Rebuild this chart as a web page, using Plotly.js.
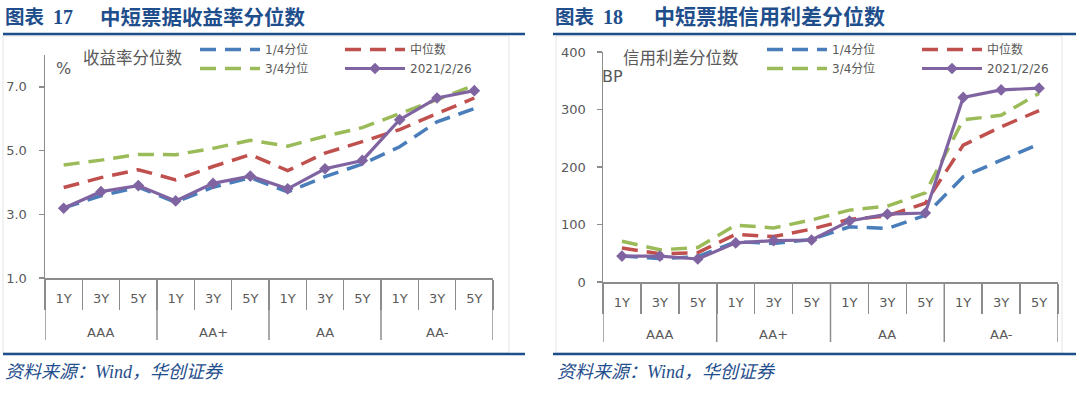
<!DOCTYPE html>
<html>
<head>
<meta charset="utf-8">
<script src="https://cdn.plot.ly/plotly-3.0.1.min.js"></script>
<style>html,body{margin:0;padding:0;background:#fff}#chart{width:1080px;height:395px}</style>
</head>
<body>
<div id="chart"></div>
<script>
// ---- data ----
const grades = ['AAA', 'AA+', 'AA', 'AA-'];
const tenors = ['1Y', '3Y', '5Y'];
const seriesNames = ['1/4分位', '中位数', '3/4分位', '2021/2/26'];

// 收益率分位数 (%)
const yieldQ1  = [3.20, 3.58, 3.85, 3.38, 3.85, 4.15, 3.70, 4.18, 4.58, 5.12, 5.90, 6.32];
const yieldMed = [3.84, 4.15, 4.40, 4.08, 4.50, 4.87, 4.37, 4.92, 5.28, 5.66, 6.16, 6.65];
const yieldQ3  = [4.55, 4.70, 4.88, 4.87, 5.07, 5.32, 5.14, 5.45, 5.72, 6.15, 6.60, 7.05];
const yieldNow = [3.19, 3.71, 3.90, 3.42, 3.97, 4.20, 3.80, 4.43, 4.69, 5.97, 6.65, 6.88];

// 信用利差分位数 (BP)
const spreadQ1  = [45, 41, 44, 70, 67, 74, 96, 93, 116, 183, 212, 240];
const spreadMed = [59, 49, 51, 83, 79, 92, 109, 115, 137, 238, 270, 298];
const spreadQ3  = [71, 56, 60, 99, 94, 108, 125, 132, 155, 282, 290, 328];
const spreadNow = [45, 45, 40, 68, 72, 73, 106, 118, 120, 321, 334, 337];

const yTicksLeft = [1, 3, 5, 7];
const yTicksRight = [0, 100, 200, 300, 400];

// ---- build ----
const xKeys = [], alias = {};
grades.forEach(g => tenors.forEach(t => { const k = g + ' ' + t; xKeys.push(k); alias[k] = t; }));

const W = 1080, H = 395;
const px = x => x / W;
const py = y => 1 - y / H;

const colors = ['#4A7EBB', '#C0504D', '#9BBB59', '#8064A2'];
const dashPat = '16px,9px';
const gray = '#595959';
const axGray = '#8C8C8C';
const cjk = 'DejaVu Sans, Noto Sans CJK SC, sans-serif';

function mk(y, i, xa, ya, lg) {
  const isNow = i === 3;
  return {
    type: 'scatter', x: xKeys, y: y, name: seriesNames[i], xaxis: xa, yaxis: ya,
    legend: lg,
    mode: isNow ? 'lines+markers' : 'lines',
    line: { color: colors[i], width: isNow ? 3.2 : 3.5, dash: isNow ? 'solid' : dashPat },
    marker: { symbol: 'diamond', size: 9, color: colors[i] },
    hoverinfo: 'skip'
  };
}

const data = [
  mk(yieldQ1, 0, 'x', 'y', 'legend'),
  mk(yieldMed, 1, 'x', 'y', 'legend2'),
  mk(yieldQ3, 2, 'x', 'y', 'legend'),
  mk(yieldNow, 3, 'x', 'y', 'legend2'),
  mk(spreadQ1, 0, 'x2', 'y2', 'legend3'),
  mk(spreadMed, 1, 'x2', 'y2', 'legend4'),
  mk(spreadQ3, 2, 'x2', 'y2', 'legend3'),
  mk(spreadNow, 3, 'x2', 'y2', 'legend4')
];

function xax(d0, d1, anchor, innerLen) {
  return {
    domain: [px(d0), px(d1)], anchor: anchor, type: 'category',
    categoryorder: 'array', categoryarray: xKeys, labelalias: alias,
    showline: true, linecolor: axGray, linewidth: 1.5,
    ticks: 'outside', tickson: 'boundaries', ticklen: innerLen, tickcolor: axGray, tickwidth: 1.5,
    ticklabelstandoff: 8,
    tickfont: { family: cjk, size: 13, color: gray },
    showgrid: false, zeroline: false, range: [-0.5, xKeys.length - 0.5], fixedrange: true
  };
}
function yax(top, bottom, anchor, range, tickvals, fmt, standoff) {
  return {
    domain: [py(bottom), py(top)], anchor: anchor, range: range,
    tickvals: tickvals, tickformat: fmt,
    showline: true, linecolor: axGray, linewidth: 1.5,
    ticks: 'outside', ticklen: 5, tickcolor: axGray, tickwidth: 1.5,
    ticklabelstandoff: standoff,
    tickfont: { family: cjk, size: 13, color: gray },
    showgrid: false, zeroline: false, fixedrange: true
  };
}

function leg(x, y) {
  return {
    x: px(x), y: py(y), xanchor: 'left', yanchor: 'top', orientation: 'v',
    bgcolor: 'rgba(0,0,0,0)', itemwidth: 60, tracegroupgap: 0,
    font: { family: cjk, size: 12, color: gray }
  };
}

const titleBlue = '#1F4E8C';
function ann(text, x, y, size, opts) {
  return Object.assign({
    text: text, xref: 'paper', yref: 'paper', x: px(x), y: py(y),
    xanchor: 'left', yanchor: 'middle', showarrow: false,
    font: { family: cjk, size: size, color: gray }
  }, opts || {});
}
const tFont = (s) => ({ family: 'Liberation Serif, Noto Sans CJK SC, serif', size: s, color: titleBlue });

const annotations = [
  ann('<b>图表</b>', 3, 17, 19.5, { font: tFont(19.5) }),
  ann('<b>17</b>', 51, 17, 20, { font: tFont(20) }),
  ann('<b>中短票据收益率分位数</b>', 98, 17, 20.5, { font: tFont(20.5) }),
  ann('<b>图表</b>', 553, 17, 19.5, { font: tFont(19.5) }),
  ann('<b>18</b>', 601, 17, 20, { font: tFont(20) }),
  ann('<b>中短票据信用利差分位数</b>', 652, 17, 21, { font: tFont(21) }),
  ann('<i>资料来源：Wind，华创证券</i>', 3, 372, 18, { font: tFont(18) }),
  ann('<i>资料来源：Wind，华创证券</i>', 555, 372, 18, { font: tFont(18) }),
  ann('%', 54, 68, 16),
  ann('收益率分位数', 81, 58, 16.5),
  ann('BP', 600, 76, 16),
  ann('信用利差分位数', 621, 58, 16.5)
];

function line(xr, yr, x0, y0, x1, y1, color, w) {
  return { type: 'line', xref: xr, yref: yr, x0: x0, y0: y0, x1: x1, y1: y1,
    line: { color: color, width: w }, layer: 'above' };
}
function rect(x0, y0, x1, y1) {
  return { type: 'rect', xref: 'paper', yref: 'paper', x0: px(x0), y0: py(y0), x1: px(x1), y1: py(y1),
    line: { color: '#E4E4E4', width: 1 }, fillcolor: 'rgba(0,0,0,0)', layer: 'below' };
}
const shapes = [
  rect(3, 36, 509, 353),
  rect(556, 36, 1062, 353),
  line('paper', 'paper', px(3), py(34), px(525), py(34), titleBlue, 2.5),
  line('paper', 'paper', px(3), py(354), px(525), py(354), titleBlue, 2.5),
  line('paper', 'paper', px(553), py(34), px(1076), py(34), titleBlue, 2.5),
  line('paper', 'paper', px(553), py(354), px(1076), py(354), titleBlue, 2.5)
];

// group dividers and group labels (positions from the category scale)
function groupMarks(xr, axisY, divBottom, labelY) {
  for (let g = 0; g <= grades.length; g++) {
    const b = g * tenors.length - 0.5;
    shapes.push(line(xr, 'paper', b, py(axisY), b, py(divBottom), axGray, 1.5));
  }
  grades.forEach((g, i) => {
    annotations.push({
      text: g, xref: xr, yref: 'paper', x: i * tenors.length + (tenors.length - 1) / 2, y: py(labelY),
      xanchor: 'center', yanchor: 'middle', showarrow: false,
      font: { family: cjk, size: 13, color: gray }
    });
  });
}
groupMarks('x', 278, 340, 332);
groupMarks('x2', 282, 342, 334);

const layout = {
  width: W, height: H, margin: { l: 0, r: 0, t: 0, b: 0 },
  paper_bgcolor: '#fff', plot_bgcolor: 'rgba(0,0,0,0)',
  showlegend: true, hovermode: false,
  xaxis: xax(45, 493, 'y', 30),
  yaxis: yax(55, 278, 'x', [1, 8], yTicksLeft, '.1f', 9),
  xaxis2: xax(603, 1058, 'y2', 30),
  yaxis2: yax(52, 282, 'x2', [0, 400], yTicksRight, 'd', 8),
  legend: leg(195, 35),
  legend2: leg(340, 35),
  legend3: leg(762, 35),
  legend4: leg(917, 35),
  annotations: annotations,
  shapes: shapes
};

Plotly.newPlot('chart', data, layout, { staticPlot: true, displayModeBar: false });
</script>
</body>
</html>
